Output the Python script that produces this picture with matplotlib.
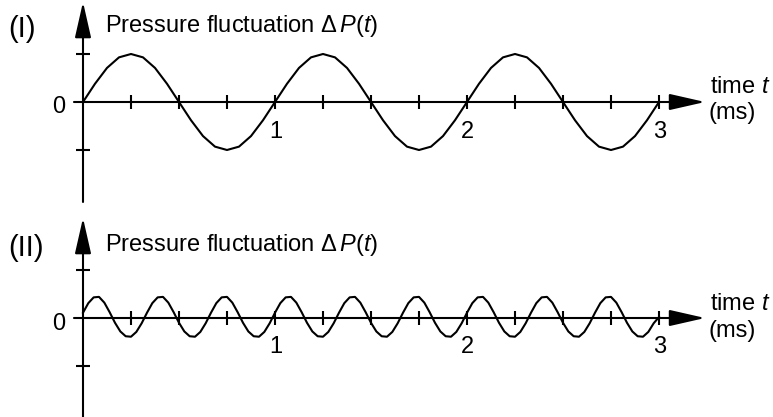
import numpy as np
import matplotlib
matplotlib.use("Agg")
import matplotlib.pyplot as plt

plt.rcParams['font.family'] = ['Liberation Sans', 'DejaVu Sans']
plt.rcParams['mathtext.fontset'] = 'custom'
plt.rcParams['mathtext.rm'] = 'Liberation Sans'
plt.rcParams['mathtext.it'] = 'Liberation Sans:italic'

# (I): pressure read every 1/16 ms, 0 .. 3 ms
p_top = [0, 0.38, 0.71, 0.93, 1.0, 0.93, 0.71, 0.38,
         0, -0.38, -0.71, -0.93, -1.0, -0.93, -0.71, -0.38,
         0, 0.38, 0.71, 0.93, 1.0, 0.93, 0.71, 0.38,
         0, -0.38, -0.71, -0.93, -1.0, -0.93, -0.71, -0.38,
         0, 0.38, 0.71, 0.93, 1.0, 0.93, 0.71, 0.38,
         0, -0.38, -0.71, -0.93, -1.0, -0.93, -0.71, -0.38,
         0]

# (II): pressure read every 1/36 ms, 0 .. 3 ms
p_bot = [0.11, 0.31, 0.43, 0.44, 0.32, 0.12, -0.10, -0.28, -0.38, -0.39, -0.29, -0.11,
         0.11, 0.31, 0.43, 0.44, 0.32, 0.12, -0.10, -0.28, -0.38, -0.39, -0.29, -0.11,
         0.11, 0.31, 0.43, 0.44, 0.32, 0.12, -0.10, -0.28, -0.38, -0.39, -0.29, -0.11,
         0.11, 0.31, 0.43, 0.44, 0.32, 0.12, -0.10, -0.28, -0.38, -0.39, -0.29, -0.11,
         0.11, 0.31, 0.43, 0.44, 0.32, 0.12, -0.10, -0.28, -0.38, -0.39, -0.29, -0.11,
         0.11, 0.31, 0.43, 0.44, 0.32, 0.12, -0.10, -0.28, -0.38, -0.39, -0.29, -0.11,
         0.11, 0.31, 0.43, 0.44, 0.32, 0.12, -0.10, -0.28, -0.38, -0.39, -0.29, -0.11,
         0.11, 0.31, 0.43, 0.44, 0.32, 0.12, -0.10, -0.28, -0.38, -0.39, -0.29, -0.11,
         0.11, 0.31, 0.43, 0.44, 0.32, 0.12, -0.10, -0.28, -0.38, -0.39, -0.29, -0.11,
         0.02]

x_ticks = [0.25, 0.5, 0.75, 1.0, 1.25, 1.5, 1.75, 2.0, 2.25, 2.5, 2.75, 3.0]
x_labels = [1, 2, 3]
y_ticks = [-1, 1]

W, H = 773, 417
fig = plt.figure(figsize=(W / 100, H / 100), dpi=100)

LW = 1.5
FS = 17


def panel(rect, ylim, p, tag, y_bottom, txt):
    ax = fig.add_axes(rect)
    ax.set_xlim(-83 / 192, (W - 83) / 192)
    ax.set_ylim(*ylim)
    ax.axis('off')

    t = np.linspace(0, 3, len(p))
    ax.plot(t, p, color='k', lw=LW, solid_joinstyle='round', zorder=3)

    arrow = dict(arrowstyle='-|>,head_length=1.1,head_width=0.25', mutation_scale=20,
                 lw=LW, color='k', shrinkA=0, shrinkB=0)
    ax.annotate('', xy=(3.24, 0), xytext=(-0.047, 0), arrowprops=arrow, annotation_clip=False)
    ax.annotate('', xy=(0, 2.083), xytext=(0, y_bottom), arrowprops=arrow, annotation_clip=False)

    ax.vlines(x_ticks, -0.146, 0.146, color='k', lw=LW)
    ax.hlines(y_ticks, -0.036, 0.036, color='k', lw=LW)

    for n in x_labels:
        ax.text(n - 0.03, txt['num'], str(n), fontsize=FS, ha='left', va='baseline')
    ax.text(-0.09, txt['zero'], '0', fontsize=FS, ha='right', va='baseline')
    ax.text(-0.39, txt['tag'], tag, fontsize=21, ha='left', va='baseline')
    ax.text(0.115, txt['title'], r'Pressure fluctuation $\Delta\,P(t)$', fontsize=FS,
            ha='left', va='baseline')
    ax.text(3.265, txt['time'], r'time $t$', fontsize=FS, ha='left', va='baseline')
    ax.text(3.26, txt['ms'], '(ms)', fontsize=FS, ha='left', va='baseline')


panel([0, 1 - 210 / H, 1, 210 / H], (-2.25, 2.125), p_top, '(I)', -2.083,
      dict(num=-0.75, zero=-0.229, tag=1.354, title=1.458, time=0.1875, ms=-0.354))
panel([0, 0, 1, 207 / H], (-2.0625, 2.25), p_bot, '(II)', -2.0625,
      dict(num=-0.73, zero=-0.25, tag=1.29, title=1.396, time=0.167, ms=-0.39))

fig.savefig('out.png', dpi=100)
